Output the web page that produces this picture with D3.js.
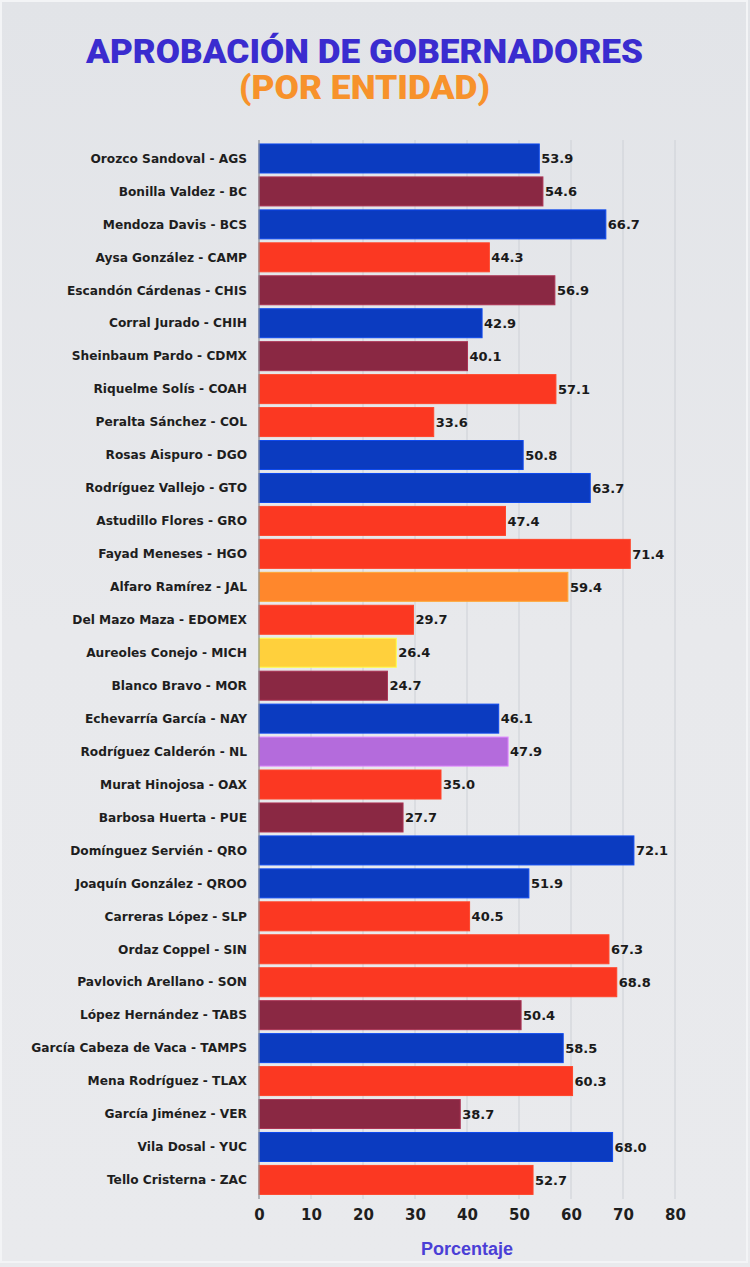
<!DOCTYPE html>
<html>
<head>
<meta charset="utf-8">
<script src="https://cdn.jsdelivr.net/npm/d3@7"></script>
<style>
  html, body { margin: 0; padding: 0; background: #e6e8eb; }
  svg { display: block; }
</style>
</head>
<body>
<svg id="chart" width="750" height="1267"></svg>
<script>
const names = [
  "Orozco Sandoval - AGS", "Bonilla Valdez - BC", "Mendoza Davis - BCS", "Aysa González - CAMP",
  "Escandón Cárdenas - CHIS", "Corral Jurado - CHIH", "Sheinbaum Pardo - CDMX", "Riquelme Solís - COAH",
  "Peralta Sánchez - COL", "Rosas Aispuro - DGO", "Rodríguez Vallejo - GTO", "Astudillo Flores - GRO",
  "Fayad Meneses - HGO", "Alfaro Ramírez - JAL", "Del Mazo Maza - EDOMEX", "Aureoles Conejo - MICH",
  "Blanco Bravo - MOR", "Echevarría García - NAY", "Rodríguez Calderón - NL", "Murat Hinojosa - OAX",
  "Barbosa Huerta - PUE", "Domínguez Servién - QRO", "Joaquín González - QROO", "Carreras López - SLP",
  "Ordaz Coppel - SIN", "Pavlovich Arellano - SON", "López Hernández - TABS", "García Cabeza de Vaca - TAMPS",
  "Mena Rodríguez - TLAX", "García Jiménez - VER", "Vila Dosal - YUC", "Tello Cristerna - ZAC"
];
const values = [
  53.9, 54.6, 66.7, 44.3, 56.9, 42.9, 40.1, 57.1,
  33.6, 50.8, 63.7, 47.4, 71.4, 59.4, 29.7, 26.4,
  24.7, 46.1, 47.9, 35.0, 27.7, 72.1, 51.9, 40.5,
  67.3, 68.8, 50.4, 58.5, 60.3, 38.7, 68.0, 52.7
];
const parties = [
  "PAN", "MORENA", "PAN", "PRI", "MORENA", "PAN", "MORENA", "PRI",
  "PRI", "PAN", "PAN", "PRI", "PRI", "MC", "PRI", "PRD",
  "MORENA", "PAN", "IND", "PRI", "MORENA", "PAN", "PAN", "PRI",
  "PRI", "PRI", "MORENA", "PAN", "PRI", "MORENA", "PAN", "PRI"
];
const partyNames = ["PAN", "MORENA", "PRI", "MC", "PRD", "IND"];
const partyColors = ["#0b3bc0", "#8a2843", "#fb3822", "#ff872c", "#ffd03c", "#b46bdc"];
const xTicks = [0, 10, 20, 30, 40, 50, 60, 70, 80];
const titleText = "APROBACIÓN DE GOBERNADORES";
const subtitleText = "(POR ENTIDAD)";
const xLabel = "Porcentaje";

const svg = d3.select("#chart");
const W = 750, H = 1267;

// background
const defs = svg.append("defs");
const grad = defs.append("linearGradient").attr("id", "bg").attr("x1", 0).attr("y1", 0).attr("x2", 0).attr("y2", 1);
grad.append("stop").attr("offset", "0%").attr("stop-color", "#e2e4e8");
grad.append("stop").attr("offset", "50%").attr("stop-color", "#e8e9ec");
grad.append("stop").attr("offset", "100%").attr("stop-color", "#e9eaed");
svg.append("rect").attr("width", W).attr("height", H).attr("fill", "url(#bg)");
svg.append("rect").attr("x", 1).attr("y", 1).attr("width", W - 4).attr("height", H - 6)
  .attr("fill", "none").attr("stroke", "#f3f4f6").attr("stroke-width", 2);

const x = d3.scaleLinear().domain([0, 80]).range([259, 675]);
const y = d3.scaleBand().domain(names).range([142, 1196.4]).paddingInner(0.12).paddingOuter(0.06);
const color = d3.scaleOrdinal().domain(partyNames).range(partyColors);

// title
svg.append("text").attr("x", 364.5).attr("y", 63).attr("text-anchor", "middle")
  .attr("font-family", "Roboto, 'DejaVu Sans', sans-serif").attr("font-weight", 900)
  .attr("font-size", 33).attr("fill", "#3a2ccf")
  .attr("textLength", 557).attr("lengthAdjust", "spacingAndGlyphs")
  .text(titleText);
svg.append("text").attr("x", 364.5).attr("y", 99).attr("text-anchor", "middle")
  .attr("font-family", "Roboto, 'DejaVu Sans', sans-serif").attr("font-weight", 900)
  .attr("font-size", 33).attr("fill", "#f7922b")
  .attr("textLength", 251).attr("lengthAdjust", "spacingAndGlyphs")
  .text(subtitleText);

// gridlines
svg.append("g").selectAll("line").data(xTicks.filter(d => d > 0)).join("line")
  .attr("x1", d => x(d)).attr("x2", d => x(d))
  .attr("y1", 140).attr("y2", 1199)
  .attr("stroke", "#cdd0d6").attr("stroke-width", 1);

// bars
const data = names.map((n, i) => ({ name: n, value: values[i], party: parties[i] }));
svg.append("g").selectAll("rect").data(data).join("rect")
  .attr("x", x(0)).attr("y", d => y(d.name))
  .attr("width", d => x(d.value) - x(0)).attr("height", y.bandwidth())
  .attr("fill", d => color(d.party))
  .attr("stroke", d => d3.color(color(d.party)).brighter(0.6))
  .attr("stroke-width", 1);

// left axis line
svg.append("line").attr("x1", x(0)).attr("x2", x(0)).attr("y1", 140).attr("y2", 1199)
  .attr("stroke", "#8a8d93").attr("stroke-width", 1.2);

// category labels
svg.append("g").selectAll("text").data(data).join("text")
  .attr("x", 247).attr("y", d => y(d.name) + y.bandwidth() / 2)
  .attr("dy", "0.35em").attr("text-anchor", "end")
  .attr("font-family", "'DejaVu Sans', Verdana, sans-serif").attr("font-weight", "bold")
  .attr("font-size", 12.2).attr("fill", "#1e1e1e")
  .text(d => d.name);

// value labels
svg.append("g").selectAll("text").data(data).join("text")
  .attr("x", d => x(d.value) + 2).attr("y", d => y(d.name) + y.bandwidth() / 2)
  .attr("dy", "0.36em")
  .attr("font-family", "'DejaVu Sans', Verdana, sans-serif").attr("font-weight", "bold")
  .attr("font-size", 13).attr("fill", "#1a1a1a")
  .text(d => d.value.toFixed(1));

// x axis tick labels
const xAxis = d3.axisBottom(x).tickValues(xTicks).tickSize(0).tickPadding(0);
const gx = svg.append("g").attr("transform", "translate(0,1209)").call(xAxis);
gx.select(".domain").remove();
gx.selectAll("text")
  .attr("font-family", "'DejaVu Sans', sans-serif").attr("font-weight", "bold")
  .attr("font-size", 15).attr("fill", "#1e1e1e");

// x axis title
svg.append("text").attr("x", x(40)).attr("y", 1255).attr("text-anchor", "middle")
  .attr("font-family", "'Liberation Sans', Arial, sans-serif").attr("font-weight", "bold")
  .attr("font-size", 18).attr("fill", "#4b3fd6")
  .text(xLabel);
</script>
</body>
</html>
